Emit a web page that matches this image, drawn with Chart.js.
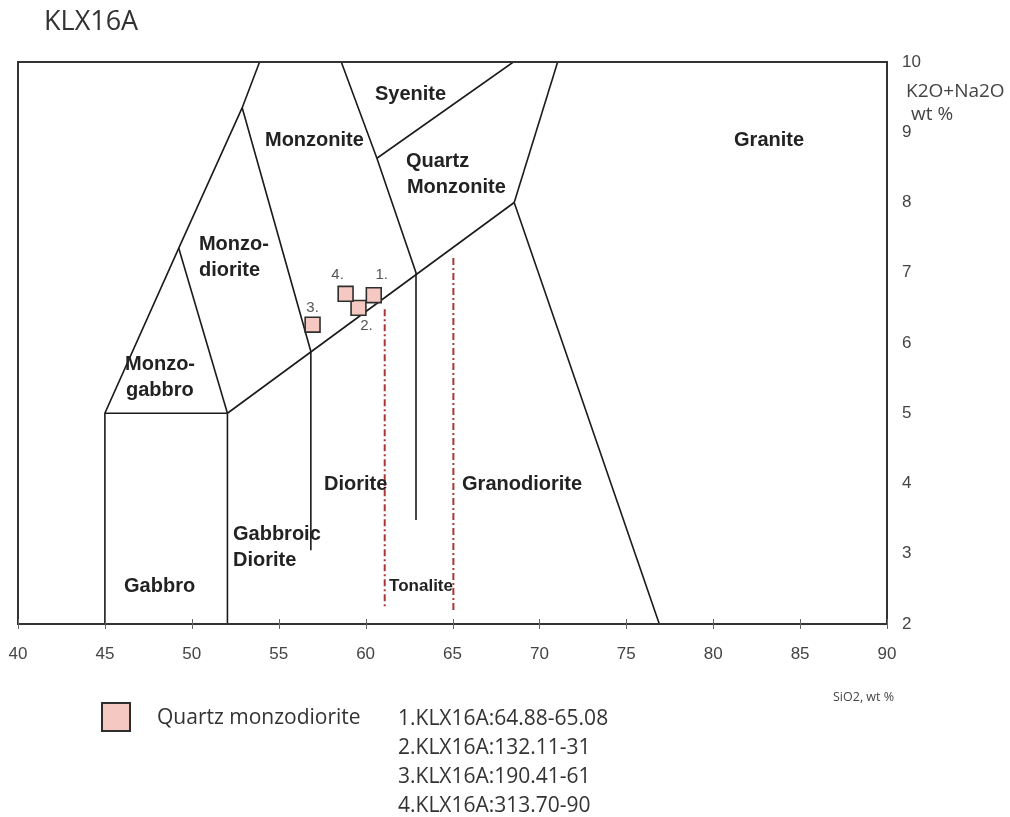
<!DOCTYPE html>
<html>
<head>
<meta charset="utf-8">
<script src="https://cdn.jsdelivr.net/npm/chart.js@4.4.1/dist/chart.umd.min.js"></script>
<style>
  html, body { margin: 0; padding: 0; background: #fff; }
  #wrap { width: 1010px; height: 817px; position: relative; }
</style>
</head>
<body>
<div id="wrap"><canvas id="tas" width="1010" height="817"></canvas></div>
<script>
// Plutonic TAS classification (SiO2 vs K2O+Na2O), borehole KLX16A

// axis ticks
const xTicks = [40, 45, 50, 55, 60, 65, 70, 75, 80, 85, 90];
const yTicks = [2, 3, 4, 5, 6, 7, 8, 9, 10];

// field boundaries, [SiO2, K2O+Na2O]
const gabbroLeft      = [[45, 2], [45, 5.0], [49.25, 7.35], [52.9, 9.35], [53.9, 10]];
const monzogabbroBase = [[45, 5.0], [52.05, 5.0]];
const gabbroRight     = [[52.05, 2], [52.05, 5.0]];
const mainDiagonal    = [[52.05, 5.0], [68.55, 8.0]];
const monzogabbroTop  = [[49.25, 7.35], [52.05, 5.0]];
const dioriteLeft     = [[52.9, 9.35], [56.85, 5.88], [56.85, 3.05]];
const monzoniteRight  = [[58.6, 10], [60.65, 8.63], [62.9, 7.0], [62.9, 3.48]];
const syeniteBase     = [[60.65, 8.63], [68.5, 10]];
const qzMonzRight     = [[71.05, 10], [68.55, 8.0]];
const graniteLeft     = [[68.55, 8.0], [76.9, 2]];
const tonaliteLeft    = [[61.1, 6.48], [61.1, 2.25]];
const tonaliteRight   = [[65.05, 7.21], [65.05, 2.2]];

// samples (Quartz monzodiorite)
const sampleTags   = ['1.', '2.', '3.', '4.'];
const sampleSiO2   = [60.47, 59.59, 56.95, 58.85];
const sampleAlkali = [6.68, 6.50, 6.26, 6.70];
const sampleIds    = ['1.KLX16A:64.88-65.08', '2.KLX16A:132.11-31', '3.KLX16A:190.41-61', '4.KLX16A:313.70-90'];

// field names: text, left edge (SiO2), centre line (K2O+Na2O)
const fieldNames = [
  ['Syenite', 60.54, 9.54], ['Monzonite', 54.21, 8.88], ['Quartz', 62.32, 8.58],
  ['Monzonite', 62.38, 8.21], ['Granite', 81.2, 8.88], ['Monzo-', 50.41, 7.40],
  ['diorite', 50.41, 7.03], ['Monzo-', 46.16, 5.69], ['gabbro', 46.21, 5.33],
  ['Diorite', 57.61, 3.99], ['Granodiorite', 65.55, 3.99], ['Gabbroic', 52.37, 3.27],
  ['Diorite', 52.37, 2.90], ['Gabbro', 46.10, 2.53]
];
const tonaliteName = ['Tonalite', 61.35, 2.53];

// pixel offsets of the sample numbers from their squares
const tagOffsets = [[8, -20], [8, 18], [0, -17], [-8, -19]];

const toPts = arr => arr.map(p => ({ x: p[0], y: p[1] }));

function boundary(arr) {
  return {
    data: toPts(arr), showLine: true, pointRadius: 0, pointHoverRadius: 0,
    borderColor: '#1b1b1b', borderWidth: 1.6, fill: false, order: 2
  };
}
function redLine(arr) {
  return {
    data: toPts(arr), showLine: true, pointRadius: 0, pointHoverRadius: 0,
    borderColor: '#a8373a', borderWidth: 2, borderDash: [7, 3, 2, 3], fill: false, order: 3
  };
}

const datasets = [
  boundary(gabbroLeft), boundary(monzogabbroBase), boundary(gabbroRight),
  boundary(mainDiagonal), boundary(monzogabbroTop), boundary(dioriteLeft),
  boundary(monzoniteRight), boundary(syeniteBase), boundary(qzMonzRight),
  boundary(graniteLeft), redLine(tonaliteLeft), redLine(tonaliteRight),
  {
    label: 'Quartz monzodiorite',
    data: sampleSiO2.map((v, i) => ({ x: v, y: sampleAlkali[i] })),
    showLine: false, pointStyle: 'rect', pointRadius: 10.5, pointHoverRadius: 10.5,
    backgroundColor: '#f5c8c1', borderColor: '#2e2e2e', borderWidth: 1.6, order: 0
  }
];

const decor = {
  id: 'decor',
  afterDatasetsDraw(chart) {
    const ctx = chart.ctx, a = chart.chartArea;
    const xs = chart.scales.x, ys = chart.scales.y;
    ctx.save();
    // frame
    ctx.strokeStyle = '#333';
    ctx.lineWidth = 2;
    ctx.strokeRect(a.left, a.top, a.right - a.left, a.bottom - a.top);
    // crossing tick marks on the SiO2 axis
    ctx.lineWidth = 1;
    ctx.strokeStyle = '#666';
    xTicks.forEach(v => {
      const px = Math.round(xs.getPixelForValue(v)) + 0.5;
      ctx.beginPath();
      ctx.moveTo(px, a.bottom - 5);
      ctx.lineTo(px, a.bottom + 5);
      ctx.stroke();
    });
    // field names
    ctx.fillStyle = '#222';
    ctx.textBaseline = 'middle';
    ctx.textAlign = 'left';
    ctx.font = 'bold 20px "Liberation Sans", Arial, sans-serif';
    fieldNames.forEach(f => {
      ctx.fillText(f[0], xs.getPixelForValue(f[1]), ys.getPixelForValue(f[2]));
    });
    ctx.font = 'bold 17px "Liberation Sans", Arial, sans-serif';
    ctx.fillText(tonaliteName[0], xs.getPixelForValue(tonaliteName[1]), ys.getPixelForValue(tonaliteName[2]));
    // sample numbers
    ctx.font = '15px "Liberation Sans", Arial, sans-serif';
    ctx.fillStyle = '#555';
    ctx.textAlign = 'center';
    const meta = chart.getDatasetMeta(datasets.length - 1);
    meta.data.forEach((pt, i) => {
      ctx.fillText(sampleTags[i], pt.x + tagOffsets[i][0], pt.y + tagOffsets[i][1]);
    });
    ctx.restore();
  },
  afterDraw(chart) {
    const ctx = chart.ctx;
    ctx.save();
    ctx.textBaseline = 'middle';
    ctx.textAlign = 'left';
    ctx.fillStyle = '#333';
    // borehole title
    ctx.font = '27px "Open Sans", "Noto Sans", sans-serif';
    ctx.fillText('KLX16A', 44, 22);
    // axis titles
    ctx.fillStyle = '#444';
    ctx.font = '19px "Open Sans", "Noto Sans", sans-serif';
    ctx.fillText('K2O+Na2O', 906, 92);
    ctx.fillText('wt %', 911, 115);
    ctx.font = '12.5px "Open Sans", "Noto Sans", sans-serif';
    ctx.fillText('SiO2, wt %', 833, 697);
    // legend
    ctx.fillStyle = '#f5c8c1';
    ctx.fillRect(102, 703, 28, 28);
    ctx.strokeStyle = '#2e2e2e';
    ctx.lineWidth = 2;
    ctx.strokeRect(102, 703, 28, 28);
    ctx.fillStyle = '#333';
    ctx.font = '21px "Open Sans", "Noto Sans", sans-serif';
    ctx.fillText(datasets[datasets.length - 1].label, 157, 718);
    sampleIds.forEach((s, i) => ctx.fillText(s, 398, 719 + i * 29));
    ctx.restore();
  }
};

new Chart(document.getElementById('tas'), {
  type: 'scatter',
  data: { datasets },
  options: {
    responsive: false,
    animation: false,
    events: [],
    layout: { padding: { left: 18, top: 62, right: 0, bottom: 143 } },
    plugins: { legend: { display: false }, tooltip: { enabled: false }, title: { display: false } },
    scales: {
      x: {
        type: 'linear', position: 'bottom', min: 40, max: 90,
        afterBuildTicks: s => { s.ticks = xTicks.map(v => ({ value: v })); },
        afterFit: s => { s.height = 50; s.paddingLeft = 0; s.paddingRight = 0; },
        grid: { display: false, drawTicks: false, tickLength: 0 },
        border: { display: false },
        ticks: {
          padding: 20, color: '#444',
          font: { family: '"Liberation Sans Narrow", "Liberation Sans", sans-serif', size: 17 },
          maxRotation: 0, autoSkip: false
        }
      },
      y: {
        type: 'linear', position: 'right', min: 2, max: 10,
        afterBuildTicks: s => { s.ticks = yTicks.map(v => ({ value: v })); },
        afterFit: s => { s.width = 123; s.paddingTop = 0; s.paddingBottom = 0; },
        grid: { display: false, drawTicks: false, tickLength: 0 },
        border: { display: false },
        ticks: {
          padding: 15, color: '#444',
          font: { family: '"Liberation Sans Narrow", "Liberation Sans", sans-serif', size: 17 },
          autoSkip: false
        }
      }
    }
  },
  plugins: [decor]
});
</script>
</body>
</html>
